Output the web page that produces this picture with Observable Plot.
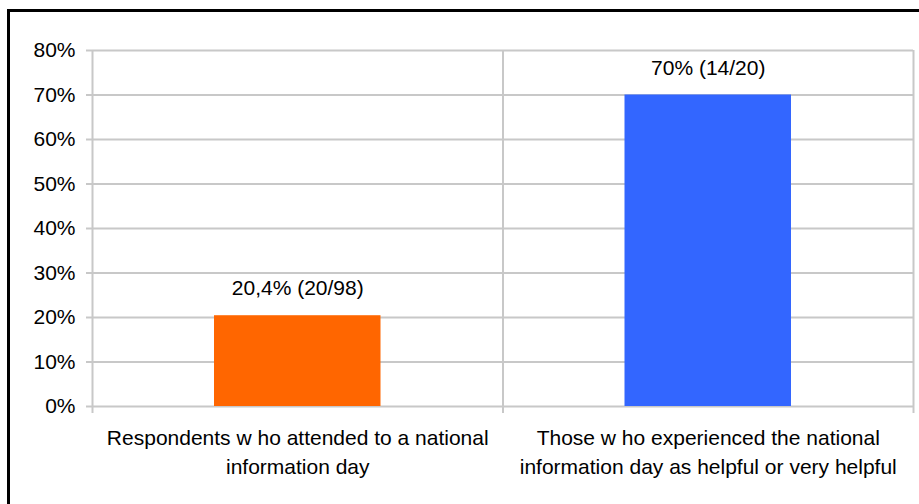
<!DOCTYPE html>
<html>
<head>
<meta charset="utf-8">
<script src="https://cdn.jsdelivr.net/npm/d3@7"></script>
<script src="https://cdn.jsdelivr.net/npm/@observablehq/plot@0.6"></script>
<style>
  html, body { margin: 0; padding: 0; background: #fff; overflow: hidden; }
  #chart { position: relative; width: 919px; height: 504px; }
  #border { position: absolute; left: 7px; top: 9px; width: 2000px; height: 2000px;
            border-left: 3px solid #000; border-top: 3px solid #000; pointer-events: none; }
</style>
</head>
<body>
<div id="chart"><div id="border"></div></div>
<script>
const categories = [
  "Respondents w ho attended to a national\ninformation day",
  "Those w ho experienced the national\ninformation day as helpful or very helpful"
];
const values = [0.204, 0.70];
const valueLabels = ["20,4% (20/98)", "70% (14/20)"];
const barColors = ["#FF6600", "#3366FF"];
const yTicks = [0, 0.1, 0.2, 0.3, 0.4, 0.5, 0.6, 0.7, 0.8];
const bandEdges = [0, 1, 2];
const bandCenters = [0.5, 1.5];

const data = categories.map((c, i) => ({i, category: c, value: values[i], label: valueLabels[i], color: barColors[i]}));
const grid = "#c8c8c8";
const font = "'Liberation Sans', Arial, sans-serif";

const chart = Plot.plot({
  width: 919,
  height: 504,
  marginLeft: 92,
  marginRight: 6,
  marginTop: 50,
  marginBottom: 98,
  style: {fontFamily: font, fontSize: "21px", color: "#000", background: "transparent"},
  x: {type: "linear", domain: [0, 2], label: null},
  y: {domain: [0, 0.8], label: null},
  marks: [
    Plot.ruleY(yTicks, {stroke: grid, strokeWidth: 2}),
    Plot.ruleX(bandEdges, {y1: 0, y2: 0.8, stroke: grid, strokeWidth: 2}),
    Plot.rectY(data, {x1: d => d.i, x2: d => d.i + 1, y: "value", fill: "color", insetLeft: 122, insetRight: 122}),
    Plot.text(data, {x: d => d.i + 0.5, y: "value", text: "label", dy: -27, fontSize: 21, fill: "#000"}),
    Plot.axisY({ticks: yTicks, tickSize: 6, tickPadding: 11, tickFormat: d3.format(".0%"), stroke: grid, strokeWidth: 2, fontSize: 21, label: null}),
    Plot.axisX({ticks: bandEdges, tickSize: 7, tickFormat: () => "", stroke: grid, strokeWidth: 2, label: null}),
    Plot.axisX({ticks: bandCenters, tickSize: 0, tickPadding: 17, tickFormat: d => categories[Math.floor(d)], fontSize: 21, lineHeight: 1.42, label: null})
  ]
});
document.getElementById("chart").prepend(chart);
</script>
</body>
</html>
